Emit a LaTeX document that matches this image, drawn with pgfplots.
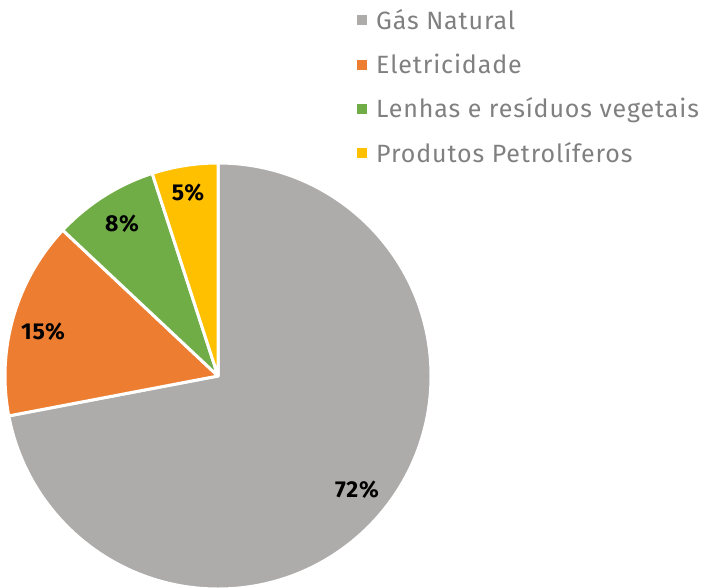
\documentclass[border=0pt]{standalone}
\usepackage{pgfplots}
\pgfplotsset{compat=1.18}
\usepackage{pgfplotstable}
\usepackage{fontspec}
\setmainfont{Fira Sans}
\newfontfamily\legfont[LetterSpace=3.5]{Fira Sans}
\newfontfamily\labfont[LetterSpace=3]{Fira Sans}
\definecolor{gasc}{HTML}{AEABAB}
\definecolor{elec}{HTML}{ED7D31}
\definecolor{lenh}{HTML}{70AD47}
\definecolor{petr}{HTML}{FFC000}
\definecolor{legtxt}{HTML}{808080}
\pgfplotstableread{
value
72
15
8
5
}\piedata
\begin{document}
\begin{tikzpicture}
\pgfplotstablegetelem{0}{value}\of\piedata \let\vA\pgfplotsretval
\pgfplotstablegetelem{1}{value}\of\piedata \let\vB\pgfplotsretval
\pgfplotstablegetelem{2}{value}\of\piedata \let\vC\pgfplotsretval
\pgfplotstablegetelem{3}{value}\of\piedata \let\vD\pgfplotsretval
\pgfmathsetmacro\aA{90-3.6*\vA}
\pgfmathsetmacro\aB{\aA-3.6*\vB}
\pgfmathsetmacro\aC{\aB-3.6*\vC}
\pgfmathsetmacro\aD{\aC-3.6*\vD}
\begin{axis}[
  scale only axis, width=708pt, height=587pt,
  xmin=0, xmax=708, ymin=0, ymax=587,
  hide axis, clip=true,
  legend style={at={(axis cs:355,582)}, anchor=north west, draw=none, fill=none,
    font=\legfont\fontsize{25}{29}\selectfont\color{legtxt}, row sep=19pt,
    inner sep=2pt, nodes={inner sep=2pt},
    /tikz/every odd column/.append style={column sep=8pt}},
  legend cell align=left,
]
\addlegendimage{only marks, mark=square*, mark size=4.5pt, gasc}
\addlegendentry{Gás Natural}
\addlegendimage{only marks, mark=square*, mark size=4.5pt, elec}
\addlegendentry{Eletricidade}
\addlegendimage{only marks, mark=square*, mark size=4.5pt, lenh}
\addlegendentry{Lenhas e resíduos vegetais}
\addlegendimage{only marks, mark=square*, mark size=4.5pt, petr}
\addlegendentry{Produtos Petrolíferos}
\fill[gasc, draw=white, line width=3pt, line join=round] (axis cs:218,211) -- ++(90:213pt) arc[start angle=90, end angle=\aA, radius=213pt] -- cycle;
\fill[elec, draw=white, line width=3pt, line join=round] (axis cs:218,211) -- ++(\aA:213pt) arc[start angle=\aA, end angle=\aB, radius=213pt] -- cycle;
\fill[lenh, draw=white, line width=3pt, line join=round] (axis cs:218,211) -- ++(\aB:213pt) arc[start angle=\aB, end angle=\aC, radius=213pt] -- cycle;
\fill[petr, draw=white, line width=3pt, line join=round] (axis cs:218,211) -- ++(\aC:213pt) arc[start angle=\aC, end angle=\aD, radius=213pt] -- cycle;
\node[font=\labfont\fontsize{23}{26}\selectfont\bfseries] at (axis cs:357,97) {\vA\%};
\node[font=\labfont\fontsize{23}{26}\selectfont\bfseries] at (axis cs:43,255) {\vB\%};
\node[font=\labfont\fontsize{23}{26}\selectfont\bfseries] at (axis cs:122,363) {\vC\%};
\node[font=\labfont\fontsize{23}{26}\selectfont\bfseries] at (axis cs:188,394) {\vD\%};
\end{axis}
\pgfresetboundingbox
\path (current axis.south west) rectangle (current axis.north east);
\end{tikzpicture}
\end{document}
